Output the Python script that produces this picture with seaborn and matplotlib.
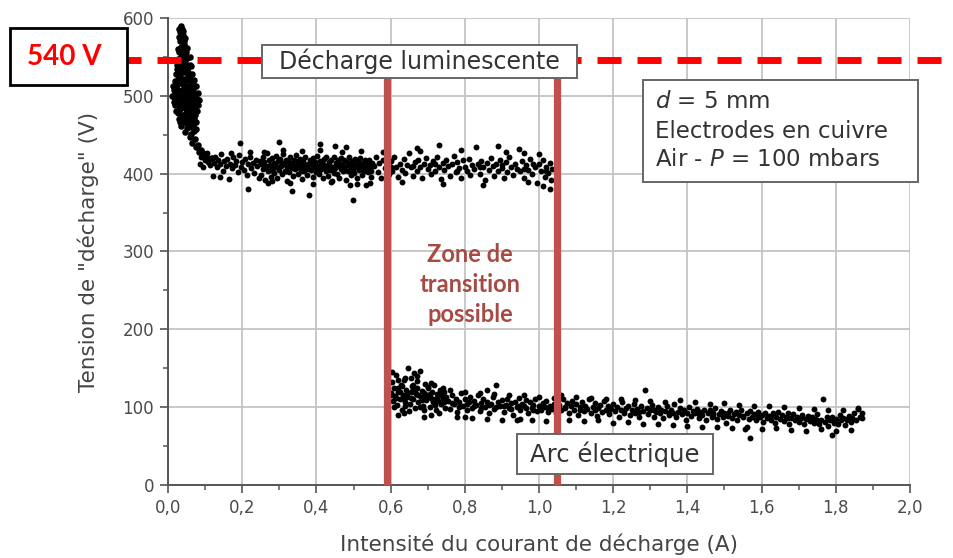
import numpy as np
import pandas as pd
import matplotlib
matplotlib.use("Agg")
import matplotlib.pyplot as plt
from matplotlib.ticker import MultipleLocator, FuncFormatter
from matplotlib.patches import Rectangle
from matplotlib.lines import Line2D
import seaborn as sns

# ---------------- data ----------------
x_ticks = [0.0, 0.2, 0.4, 0.6, 0.8, 1.0, 1.2, 1.4, 1.6, 1.8, 2.0]
y_ticks = [0, 100, 200, 300, 400, 500, 600]
threshold_voltage = 540
transition_bounds = [0.59, 1.048]

# start-up spike (current A, voltage V)
spike_points = [
    (0.035, 590), (0.038, 586), (0.033, 582), (0.040, 578), (0.036, 574), (0.031, 570),
    (0.042, 567), (0.034, 563), (0.039, 560), (0.029, 556), (0.044, 553), (0.036, 550),
    (0.026, 547), (0.047, 544), (0.032, 541), (0.041, 538), (0.023, 535), (0.050, 533),
    (0.037, 530), (0.028, 527), (0.055, 525), (0.044, 522), (0.020, 519), (0.033, 517),
    (0.060, 514), (0.049, 512), (0.025, 509), (0.039, 507), (0.065, 505), (0.018, 502),
    (0.054, 500), (0.031, 498), (0.045, 496), (0.070, 494), (0.015, 492), (0.059, 490),
    (0.027, 488), (0.038, 486), (0.074, 484), (0.050, 482), (0.021, 480), (0.064, 478),
    (0.034, 476), (0.047, 474), (0.071, 472), (0.029, 470), (0.057, 468), (0.042, 466),
    (0.067, 463), (0.036, 461), (0.052, 459), (0.075, 457), (0.046, 454), (0.062, 451),
    (0.058, 447), (0.072, 444), (0.066, 440), (0.080, 437), (0.076, 434), (0.088, 431),
    (0.084, 428), (0.095, 426), (0.102, 424), (0.098, 421), (0.110, 419), (0.118, 420),
    (0.030, 575), (0.045, 560), (0.038, 545), (0.027, 530), (0.050, 520), (0.040, 515),
    (0.030, 505), (0.060, 497), (0.043, 490), (0.022, 495), (0.055, 486), (0.033, 483),
    (0.068, 488), (0.048, 478), (0.058, 474), (0.025, 515), (0.035, 495), (0.065, 498),
    (0.053, 508), (0.046, 530), (0.040, 500), (0.050, 492), (0.062, 482), (0.038, 470),
    (0.032, 525), (0.044, 538), (0.052, 465), (0.070, 468), (0.061, 460),
    (0.055, 530), (0.060, 522), (0.065, 515), (0.068, 508), (0.072, 500), (0.070, 490),
    (0.066, 484), (0.062, 470), (0.056, 462), (0.020, 488), (0.017, 498), (0.016, 508),
    (0.019, 512), (0.022, 505), (0.058, 540), (0.052, 548), (0.048, 556), (0.043, 570),
    (0.040, 583), (0.030, 586), (0.026, 560), (0.024, 540), (0.021, 528), (0.035, 535),
    (0.030, 545), (0.054, 538), (0.048, 503), (0.042, 510), (0.036, 518), (0.058, 505),
    (0.028, 500), (0.026, 478), (0.031, 490), (0.045, 484), (0.053, 492), (0.063, 490),
    (0.057, 480), (0.041, 476), (0.047, 468), (0.033, 466), (0.073, 476), (0.075, 466),
    (0.069, 455), (0.078, 496), (0.082, 504), (0.080, 488), (0.076, 512), (0.084, 495),
    (0.079, 480), (0.012, 500), (0.014, 512), (0.070, 520), (0.064, 528), (0.060, 550),
    (0.052, 562), (0.047, 574), (0.028, 520), (0.044, 545), (0.062, 538),
]

# glow discharge plateau
glow_points = [
    (0.085, 413), (0.090, 421), (0.095, 409), (0.100, 418), (0.104, 426), (0.108, 415),
    (0.112, 411), (0.116, 420), (0.120, 397), (0.124, 414), (0.128, 422), (0.132, 408),
    (0.136, 417), (0.140, 412), (0.144, 425), (0.148, 404), (0.152, 416), (0.156, 410),
    (0.160, 419), (0.164, 393), (0.168, 413), (0.172, 407), (0.176, 421), (0.180, 411),
    (0.184, 416), (0.188, 402), (0.192, 424), (0.196, 409), (0.194, 440), (0.200, 415),
    (0.204, 405), (0.208, 419), (0.212, 398), (0.215, 380), (0.216, 412), (0.220, 422),
    (0.224, 407), (0.228, 414), (0.232, 401), (0.236, 418), (0.240, 410), (0.244, 395),
    (0.248, 416),
    (0.250, 412), (0.252, 398), (0.255, 421), (0.257, 406), (0.260, 415), (0.262, 392),
    (0.265, 409), (0.267, 427), (0.270, 403), (0.272, 417), (0.275, 411), (0.277, 396),
    (0.280, 420), (0.282, 407), (0.285, 414), (0.287, 401), (0.290, 423), (0.292, 409),
    (0.295, 394), (0.297, 416), (0.300, 405), (0.302, 419), (0.305, 410), (0.307, 399),
    (0.310, 425), (0.312, 412), (0.315, 404), (0.317, 418), (0.320, 391), (0.322, 409),
    (0.325, 415), (0.327, 402), (0.330, 421), (0.332, 408), (0.335, 413), (0.337, 397),
    (0.340, 417), (0.342, 406), (0.345, 424), (0.347, 411), (0.350, 400), (0.352, 414),
    (0.355, 407), (0.357, 419), (0.360, 393), (0.362, 410), (0.365, 416), (0.367, 404),
    (0.370, 422), (0.372, 409), (0.375, 398), (0.377, 413), (0.380, 372), (0.382, 418),
    (0.385, 405), (0.387, 411), (0.390, 396), (0.392, 420), (0.395, 408), (0.397, 415),
    (0.400, 402), (0.402, 423), (0.405, 410), (0.407, 399), (0.410, 416), (0.412, 406),
    (0.415, 413), (0.417, 394), (0.420, 419), (0.422, 408), (0.425, 403), (0.427, 421),
    (0.430, 411), (0.432, 397), (0.435, 415), (0.437, 405), (0.440, 418), (0.442, 390),
    (0.445, 409), (0.447, 422), (0.450, 407), (0.452, 414), (0.455, 400), (0.457, 417),
    (0.460, 410), (0.462, 395), (0.465, 420), (0.467, 406), (0.470, 412), (0.472, 403),
    (0.475, 418), (0.477, 409), (0.480, 392), (0.482, 415), (0.485, 404), (0.487, 421),
    (0.490, 410), (0.492, 398), (0.495, 416), (0.497, 407), (0.500, 413), (0.502, 401),
    (0.505, 419), (0.507, 408), (0.510, 394), (0.512, 415), (0.515, 405), (0.517, 420),
    (0.520, 411), (0.522, 398), (0.525, 414), (0.527, 404), (0.530, 418), (0.532, 409),
    (0.535, 385), (0.537, 413), (0.540, 402), (0.542, 417), (0.545, 408), (0.547, 396),
    (0.550, 414),
    (0.263, 410), (0.278, 405), (0.288, 412), (0.298, 408), (0.308, 414), (0.318, 403),
    (0.328, 410), (0.338, 407), (0.348, 416), (0.358, 404), (0.368, 411), (0.378, 406),
    (0.388, 414), (0.398, 409), (0.408, 403), (0.418, 412), (0.428, 407), (0.438, 410),
    (0.448, 401), (0.458, 413), (0.468, 408), (0.478, 405), (0.488, 412), (0.498, 404),
    (0.508, 410), (0.518, 406), (0.528, 411), (0.538, 407), (0.548, 403),
    (0.300, 441), (0.410, 438), (0.334, 378), (0.500, 366), (0.270, 388), (0.510, 387),
    (0.450, 436), (0.480, 434),
    (0.260, 428), (0.280, 390), (0.310, 430), (0.330, 388), (0.360, 429), (0.390, 387),
    (0.410, 431), (0.440, 389), (0.470, 428), (0.490, 386), (0.520, 429), (0.545, 388),
    (0.220, 428), (0.170, 427), (0.140, 396),
    (0.555, 410), (0.560, 421), (0.565, 402), (0.570, 414), (0.575, 395), (0.580, 418),
    (0.585, 407), (0.590, 412), (0.595, 399), (0.600, 416), (0.605, 404), (0.610, 422),
    (0.615, 409), (0.620, 396), (0.625, 413), (0.630, 405), (0.635, 419), (0.640, 401),
    (0.645, 411), (0.650, 426), (0.655, 408), (0.660, 397), (0.665, 415), (0.670, 404),
    (0.675, 417), (0.680, 409), (0.685, 394), (0.690, 413), (0.695, 420), (0.700, 406),
    (0.705, 411), (0.710, 399), (0.715, 416), (0.720, 403), (0.725, 421), (0.730, 408),
    (0.735, 393), (0.740, 414), (0.745, 405), (0.750, 418), (0.755, 410), (0.760, 397),
    (0.765, 412), (0.770, 423), (0.775, 402), (0.780, 415), (0.785, 407), (0.790, 395),
    (0.795, 417), (0.800, 409), (0.805, 403), (0.810, 419), (0.815, 398), (0.820, 411),
    (0.825, 406), (0.830, 434), (0.835, 413), (0.840, 400), (0.845, 416), (0.850, 408),
    (0.855, 392), (0.860, 414), (0.865, 405), (0.870, 420), (0.875, 410), (0.880, 397),
    (0.885, 412), (0.890, 404), (0.895, 418), (0.900, 407), (0.905, 395), (0.910, 415),
    (0.915, 402), (0.920, 421), (0.925, 409), (0.930, 398), (0.935, 413), (0.940, 406),
    (0.945, 432), (0.950, 403), (0.955, 416), (0.960, 394), (0.965, 411), (0.970, 405),
    (0.975, 419), (0.980, 400), (0.985, 413), (0.990, 408), (0.995, 388), (1.000, 412),
    (1.005, 403), (1.010, 417), (1.015, 396), (1.020, 409), (1.025, 401), (1.030, 414),
    (1.033, 392), (1.035, 406),
    (0.600, 408), (0.660, 410), (0.720, 412), (0.780, 404), (0.840, 409), (0.900, 411),
    (0.960, 406), (1.020, 404), (0.730, 437), (0.670, 433), (0.890, 436), (1.010, 384),
    (1.030, 380), (0.970, 389),
    (0.580, 428), (0.630, 389), (0.680, 429), (0.740, 387), (0.790, 430), (0.850, 386),
    (0.910, 428), (0.960, 426), (1.000, 425),
]

# electric arc regime
arc_points = [
    (0.600, 118), (0.603, 132), (0.606, 108), (0.609, 125), (0.612, 114), (0.615, 141),
    (0.618, 103), (0.621, 120), (0.624, 111), (0.627, 129), (0.630, 97), (0.633, 116),
    (0.636, 135), (0.639, 107), (0.642, 122), (0.645, 113), (0.648, 150), (0.651, 104),
    (0.654, 119), (0.657, 127), (0.660, 110), (0.663, 144), (0.666, 99), (0.669, 117),
    (0.672, 124), (0.675, 106), (0.678, 147), (0.681, 113), (0.684, 121), (0.687, 102),
    (0.690, 118), (0.693, 130), (0.696, 109), (0.699, 115), (0.702, 125), (0.705, 100),
    (0.708, 112), (0.711, 119), (0.714, 106), (0.717, 128), (0.720, 111), (0.723, 96),
    (0.726, 117), (0.729, 108), (0.732, 122), (0.735, 104), (0.738, 114), (0.741, 110),
    (0.744, 120), (0.747, 99), (0.750, 113),
    (0.605, 116), (0.615, 112), (0.625, 119), (0.635, 110), (0.645, 117), (0.655, 112),
    (0.665, 120), (0.675, 115), (0.685, 109), (0.695, 113), (0.705, 117), (0.715, 108),
    (0.725, 112), (0.735, 116), (0.745, 107), (0.620, 135), (0.640, 138), (0.660, 128),
    (0.690, 87), (0.620, 90),
    (0.610, 100), (0.630, 127), (0.650, 95), (0.670, 133), (0.690, 97), (0.710, 131),
    (0.730, 93), (0.620, 125), (0.640, 102), (0.660, 123), (0.680, 100), (0.700, 126),
    (0.720, 103), (0.740, 124), (0.605, 145), (0.635, 92), (0.670, 140), (0.710, 90),
    (0.655, 137),
    (0.755, 108), (0.760, 98), (0.765, 115), (0.770, 104), (0.775, 111), (0.780, 94),
    (0.785, 107), (0.790, 118), (0.795, 101), (0.800, 110), (0.805, 96), (0.810, 106),
    (0.815, 113), (0.820, 99), (0.825, 108), (0.830, 103), (0.835, 116), (0.840, 95),
    (0.845, 105), (0.850, 111), (0.855, 100), (0.860, 107), (0.865, 92), (0.870, 104),
    (0.875, 113), (0.880, 98), (0.885, 128), (0.890, 106), (0.895, 101), (0.900, 109),
    (0.905, 94), (0.910, 103), (0.915, 111), (0.920, 99), (0.925, 105), (0.930, 90),
    (0.935, 107), (0.940, 100), (0.945, 112), (0.950, 96), (0.955, 104), (0.960, 101),
    (0.965, 109), (0.970, 93), (0.975, 106), (0.980, 99), (0.985, 103), (0.990, 110),
    (0.995, 95), (1.000, 102), (1.005, 97), (1.010, 105), (1.015, 100), (1.020, 108),
    (1.025, 94), (1.030, 101), (1.035, 98), (1.040, 104), (1.045, 92), (1.050, 100),
    (0.765, 105), (0.785, 100), (0.805, 104), (0.825, 101), (0.845, 99), (0.865, 103),
    (0.885, 100), (0.905, 102), (0.925, 98), (0.945, 101), (0.965, 99), (0.985, 97),
    (1.005, 101), (1.025, 99), (0.800, 88), (0.860, 122), (0.950, 85),
    (0.760, 122), (0.780, 88), (0.800, 120), (0.820, 86), (0.840, 118), (0.860, 85),
    (0.880, 117), (0.900, 84), (0.920, 116), (0.940, 83), (0.960, 115), (0.980, 84),
    (1.000, 113), (1.020, 82), (1.040, 112),
    (1.055, 103), (1.060, 96), (1.065, 110), (1.070, 99), (1.075, 105), (1.080, 92),
    (1.085, 101), (1.090, 108), (1.095, 97), (1.100, 104), (1.105, 90), (1.110, 100),
    (1.115, 107), (1.120, 95), (1.125, 102), (1.130, 98), (1.135, 111), (1.140, 93),
    (1.145, 100), (1.150, 105), (1.155, 89), (1.160, 99), (1.165, 103), (1.170, 94),
    (1.175, 108), (1.180, 97), (1.185, 101), (1.190, 91), (1.195, 98), (1.200, 104),
    (1.205, 95), (1.210, 100), (1.215, 88), (1.220, 97), (1.225, 106), (1.230, 93),
    (1.235, 99), (1.240, 102), (1.245, 90), (1.250, 96), (1.255, 104), (1.260, 92),
    (1.265, 98), (1.270, 87), (1.275, 101), (1.280, 95), (1.285, 122), (1.290, 99),
    (1.295, 91), (1.300, 97), (1.305, 103), (1.310, 88), (1.315, 94), (1.320, 100),
    (1.325, 92), (1.330, 97), (1.335, 86), (1.340, 95), (1.345, 101), (1.350, 90),
    (1.355, 96), (1.360, 93), (1.365, 104), (1.370, 87), (1.375, 94), (1.380, 99),
    (1.385, 91), (1.390, 96), (1.395, 84), (1.400, 93), (1.405, 100), (1.410, 89),
    (1.415, 95), (1.420, 92), (1.425, 98), (1.430, 86), (1.435, 94), (1.440, 90),
    (1.445, 97), (1.450, 83), (1.455, 92), (1.460, 96), (1.465, 88), (1.470, 93),
    (1.475, 99), (1.480, 85), (1.485, 91), (1.490, 95), (1.495, 87), (1.500, 92),
    (1.505, 80), (1.510, 89), (1.515, 96), (1.520, 86), (1.525, 91), (1.530, 94),
    (1.535, 84), (1.540, 90), (1.545, 97), (1.550, 87), (1.555, 72), (1.560, 92),
    (1.565, 85), (1.570, 95), (1.575, 88), (1.580, 91), (1.585, 83), (1.590, 94),
    (1.595, 87), (1.600, 90), (1.605, 81), (1.610, 93), (1.615, 86), (1.620, 89),
    (1.625, 84), (1.630, 92), (1.635, 80), (1.640, 88), (1.645, 94), (1.650, 85),
    (1.655, 90), (1.660, 82), (1.665, 87), (1.670, 93), (1.675, 79), (1.680, 86),
    (1.685, 91), (1.690, 84), (1.695, 88), (1.700, 81), (1.705, 86), (1.710, 90),
    (1.715, 78), (1.720, 85), (1.725, 89), (1.730, 82), (1.735, 87), (1.740, 80),
    (1.745, 85), (1.750, 91), (1.755, 78), (1.760, 84), (1.765, 110), (1.770, 81),
    (1.775, 87), (1.780, 76), (1.785, 83), (1.790, 88), (1.795, 80), (1.800, 85),
    (1.805, 79), (1.810, 90), (1.815, 83), (1.820, 86), (1.825, 77), (1.830, 84),
    (1.835, 89), (1.840, 81), (1.845, 86), (1.850, 93), (1.855, 84), (1.860, 98),
    (1.865, 88), (1.870, 92), (1.570, 60), (1.790, 64),
    (1.060, 115), (1.080, 84), (1.100, 113), (1.120, 82), (1.140, 112), (1.160, 83),
    (1.180, 110), (1.200, 80), (1.220, 111), (1.240, 81), (1.260, 109), (1.280, 79),
    (1.300, 108), (1.320, 78), (1.340, 107), (1.360, 77), (1.380, 109), (1.400, 76),
    (1.420, 106), (1.440, 75), (1.460, 104), (1.480, 74), (1.500, 105), (1.520, 73),
    (1.540, 103), (1.560, 74), (1.580, 102), (1.600, 72), (1.620, 101), (1.640, 73),
    (1.660, 100), (1.680, 71), (1.700, 99), (1.720, 70), (1.740, 98), (1.760, 72),
    (1.780, 97), (1.800, 70), (1.820, 96), (1.840, 71), (1.860, 99),
    (1.070, 100), (1.110, 97), (1.150, 96), (1.190, 99), (1.230, 95), (1.270, 94),
    (1.310, 96), (1.350, 92), (1.390, 95), (1.430, 91), (1.470, 90), (1.510, 93),
    (1.550, 89), (1.590, 88), (1.630, 90), (1.670, 86), (1.710, 88), (1.750, 84),
    (1.790, 86), (1.830, 85), (1.870, 86),
]

# ---------------- figure ----------------
sns.set_theme(style="white")
plt.rcParams["font.family"] = ["DejaVu Sans"]

W, H = 954, 558
fig = plt.figure(figsize=(W / 100, H / 100), dpi=100)
ax = fig.add_axes([168 / W, 1 - 485 / H, (910 - 168) / W, (485 - 18) / H])

frames = []
for name, pts in [("spike", spike_points), ("glow", glow_points), ("arc", arc_points)]:
    d = pd.DataFrame(pts, columns=["courant", "tension"])
    d["regime"] = name
    frames.append(d)
df = pd.concat(frames, ignore_index=True)

sns.scatterplot(data=df[df["regime"] == "spike"], x="courant", y="tension", color="black",
                s=22, marker="o", linewidth=0, legend=False, ax=ax, zorder=3)
sns.scatterplot(data=df[df["regime"] != "spike"], x="courant", y="tension", color="black",
                s=18, marker="o", linewidth=0, legend=False, ax=ax, zorder=3)

ax.set_xlim(0, 2.0)
ax.set_ylim(0, 600)
ax.set_xticks(x_ticks)
ax.set_yticks(y_ticks)
ax.xaxis.set_minor_locator(MultipleLocator(0.1))
ax.yaxis.set_minor_locator(MultipleLocator(50))
ax.xaxis.set_major_formatter(FuncFormatter(lambda v, p: f"{v:.1f}".replace(".", ",")))
ax.yaxis.set_major_formatter(FuncFormatter(lambda v, p: f"{int(v)}"))
ax.grid(True, which="major", color="#c4c4c4", linewidth=1.3, zorder=0)
ax.set_axisbelow(True)
for s in ["top", "right"]:
    ax.spines[s].set_visible(False)
for s in ["left", "bottom"]:
    ax.spines[s].set_color("#555555")
    ax.spines[s].set_linewidth(1.4)
ax.tick_params(which="major", direction="out", length=6, width=1.2, color="#555555",
               labelsize=12, labelcolor="#4a4a4a", pad=4, bottom=True, left=True)
ax.tick_params(which="minor", direction="out", length=3.5, width=1.1, color="#555555",
               bottom=True, left=True)

ax.set_xlabel("Intensité du courant de décharge (A)", fontsize=15.5, color="#444444",
              labelpad=12)
ax.set_ylabel('Tension de "décharge" (V)', fontsize=15.5, color="#444444", labelpad=17)

# helpers: pixel -> data
def px2x(px):
    return (px - 168) / 371.0

def py2y(py):
    return (485 - py) * 600.0 / 467.0

# transition zone vertical lines
for xv in transition_bounds:
    ax.vlines(xv, 0, py2y(76), color="#c0504d", linewidth=5.2, zorder=4, clip_on=False)

# threshold dashed line (extends across the figure)
y_fig = 1 - 60 / H
ax.add_line(Line2D([117 / W, 1.0], [y_fig, y_fig], transform=fig.transFigure,
                   color="#ff0000", linewidth=5, dashes=(3.46, 2.3), zorder=6,
                   clip_on=False))

# 540 V box
ax.add_patch(Rectangle((10 / W, 1 - 85 / H), 117 / W, 57 / H, transform=fig.transFigure,
                       facecolor="white", edgecolor="black", linewidth=2, zorder=9,
                       clip_on=False))
ax.text(64 / W, 1 - 57 / H, f"{threshold_voltage} V", transform=fig.transFigure,
        color="#ff0000", fontsize=20, fontweight="bold", family=["Lato", "DejaVu Sans"],
        ha="center", va="center", zorder=10, clip_on=False)

box_style = dict(facecolor="white", edgecolor="#666666", linewidth=1.4, zorder=8,
                 clip_on=False)

# Décharge luminescente label
ax.add_patch(Rectangle((px2x(262), py2y(78)), px2x(577) - px2x(262),
                       py2y(45) - py2y(78), **box_style))
ax.text(px2x(419.5), py2y(61.5), "Décharge luminescente", fontsize=17, color="#333333",
        ha="center", va="center", zorder=9)

# Conditions box
ax.add_patch(Rectangle((px2x(643), py2y(182)), px2x(918) - px2x(643),
                       py2y(80) - py2y(182), **box_style))
for txt, py in [("$d$ = 5 mm", 102), ("Electrodes en cuivre", 131),
                ("Air - $P$ = 100 mbars", 160)]:
    ax.text(px2x(655), py2y(py), txt, fontsize=16.5, color="#333333", ha="left",
            va="center", zorder=9, clip_on=False)

# Zone de transition
for txt, py in [("Zone de", 255), ("transition", 285), ("possible", 315)]:
    ax.text(px2x(470), py2y(py), txt, fontsize=17, color="#a84a44", fontweight="bold",
            family=["Lato", "DejaVu Sans"], ha="center", va="center", zorder=9)

# Arc électrique label
ax.add_patch(Rectangle((px2x(517), py2y(474)), px2x(713) - px2x(517),
                       py2y(434) - py2y(474), **box_style))
ax.text(px2x(615), py2y(454), "Arc électrique", fontsize=17.5, color="#333333",
        ha="center", va="center", zorder=9)

fig.savefig("out.png", dpi=100, facecolor="white")
